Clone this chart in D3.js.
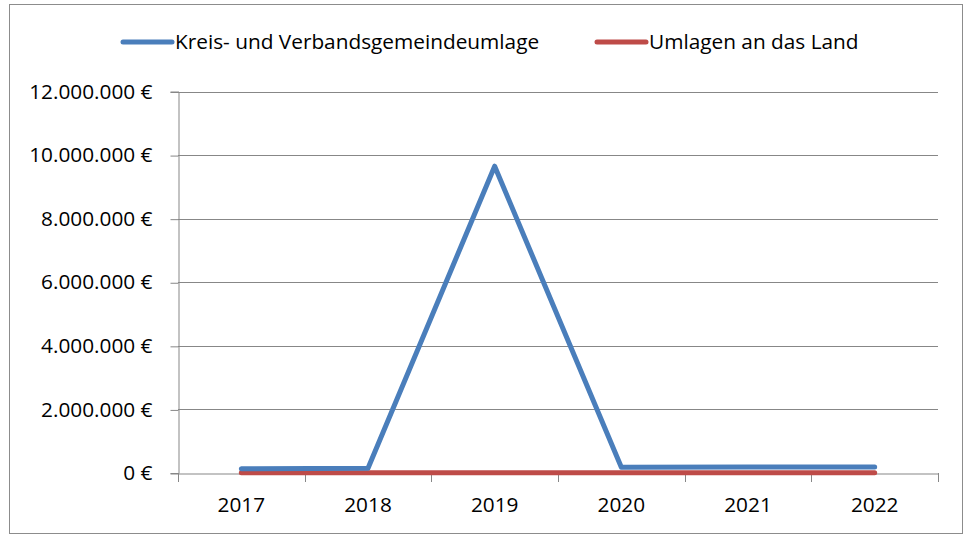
<!DOCTYPE html>
<html><head><meta charset="utf-8">
<script src="https://cdn.jsdelivr.net/npm/d3@7"></script>
<style>body{margin:0;background:#fff}svg{display:block}text{font-family:"Open Sans",sans-serif;fill:#000}</style>
</head><body>
<script>
const years = ["2017","2018","2019","2020","2021","2022"];
const kreisUmlage = [130000, 150000, 9650000, 180000, 190000, 190000];
const landUmlage = [5000, 5000, 5000, 5000, 5000, 5000];
const yTicks = [0, 2000000, 4000000, 6000000, 8000000, 10000000, 12000000];
const seriesNames = ["Kreis- und Verbandsgemeindeumlage", "Umlagen an das Land"];
const colors = ["#4A7EBB", "#BE4B48"];

const W = 966, H = 536;
const FS = 20.8;
const svg = d3.select("body").append("svg").attr("width", W).attr("height", H);
svg.append("rect").attr("x", 9.5).attr("y", 4.5).attr("width", 953).attr("height", 529)
  .attr("fill", "#fff").attr("stroke", "#8c8c8c").attr("stroke-width", 1);

const m = {left: 178, right: 938, top: 91.5, bottom: 473};
const x = d3.scaleBand().domain(years).range([m.left, m.right]);
const y = d3.scaleLinear().domain([0, 12000000]).range([m.bottom, m.top]);
const fmt = v => d3.format(",")(v).replace(/,/g, ".") + " €";

// gridlines
svg.append("g").selectAll("line").data(yTicks.slice(1)).join("line")
  .attr("x1", m.left).attr("x2", m.right)
  .attr("y1", d => Math.round(y(d)) + 0.5).attr("y2", d => Math.round(y(d)) + 0.5)
  .attr("stroke", "#878787").attr("stroke-width", 1);

// y axis
const yAxis = svg.append("g").attr("transform", `translate(${m.left + 0.5},0)`)
  .call(d3.axisLeft(y).tickValues(yTicks).tickFormat(fmt).tickSize(8).tickPadding(18));
yAxis.attr("font-family", null).attr("font-size", null);
yAxis.select(".domain").attr("stroke", "#878787");
yAxis.selectAll(".tick line").attr("stroke", "#878787").attr("transform", "translate(0,0.5)");
yAxis.selectAll("text").attr("font-size", FS).attr("fill", "#000");

// x axis
const xAxis = svg.append("g").attr("transform", `translate(0,${Math.round(m.bottom) + 0.5})`)
  .call(d3.axisBottom(x).tickSize(0).tickPadding(24));
xAxis.attr("font-family", null).attr("font-size", null);
xAxis.select(".domain").attr("stroke", "#878787");
xAxis.selectAll("text").attr("font-size", FS).attr("fill", "#000");
const bounds = years.map(d => x(d)).concat([x.range()[1]]);
svg.append("g").selectAll("line").data(bounds).join("line")
  .attr("x1", d => Math.round(d) + 0.5).attr("x2", d => Math.round(d) + 0.5)
  .attr("y1", Math.round(m.bottom)).attr("y2", Math.round(m.bottom) + 9)
  .attr("stroke", "#878787");

// lines
const line = d3.line().x((d, i) => x(years[i]) + x.bandwidth() / 2).y(d => y(d));
[[landUmlage, 1], [kreisUmlage, 0]].forEach(([s, idx]) => {
  svg.append("path").datum(s).attr("d", line).attr("fill", "none")
    .attr("stroke", colors[idx]).attr("stroke-width", 5)
    .attr("stroke-linejoin", "round").attr("stroke-linecap", "round");
});

// legend
const leg = [{x: 123, tx: 175}, {x: 597, tx: 649}];
seriesNames.forEach((n, i) => {
  svg.append("line").attr("x1", leg[i].x).attr("x2", leg[i].x + 49)
    .attr("y1", 42).attr("y2", 42).attr("stroke", colors[i]).attr("stroke-width", 5)
    .attr("stroke-linecap", "round");
  svg.append("text").attr("x", leg[i].tx).attr("y", 42).attr("dy", "0.35em")
    .attr("font-size", FS).text(n);
});
</script>
</body></html>
